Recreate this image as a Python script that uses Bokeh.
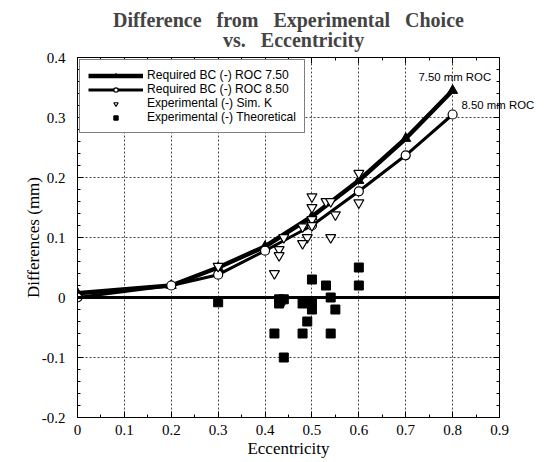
from bokeh.plotting import figure
from bokeh.models import (LinearAxis, Title, Label, Legend, LegendItem, FixedTicker, Span)
from bokeh.embed import file_html
from bokeh.resources import INLINE

# ---- data ----
ecc_curve = [0.0, 0.2, 0.3, 0.4, 0.5, 0.6, 0.7, 0.8]
roc750 = [0.007, 0.02, 0.05, 0.085, 0.135, 0.195, 0.265, 0.345]
roc850 = [0.0, 0.02, 0.038, 0.078, 0.12, 0.177, 0.237, 0.305]

simk_x = [0.60, 0.60, 0.50, 0.50, 0.53, 0.54, 0.55, 0.50, 0.48, 0.50, 0.49, 0.48, 0.54, 0.44, 0.43, 0.43, 0.30, 0.42, 0.44]
simk_y = [0.207, 0.158, 0.168, 0.15, 0.16, 0.16, 0.138, 0.13, 0.118, 0.12, 0.10, 0.09, 0.10, 0.10, 0.08, 0.07, 0.052, 0.04, -0.005]

theo_x = [0.30, 0.43, 0.44, 0.43, 0.48, 0.50, 0.50, 0.50, 0.53, 0.54, 0.55, 0.49, 0.42, 0.48, 0.54, 0.44, 0.60, 0.60]
theo_y = [-0.008, -0.003, -0.003, -0.01, -0.01, -0.01, -0.02, 0.03, 0.02, 0.0, -0.02, -0.04, -0.06, -0.06, -0.06, -0.10, 0.05, 0.02]

x_ticks = [0, 0.1, 0.2, 0.3, 0.4, 0.5, 0.6, 0.7, 0.8, 0.9]
x_tick_labels = ["0", "0.1", "0.2", "0.3", "0.4", "0.5", "0.6", "0.7", "0.8", "0.9"]
x_minor = [0.05, 0.15, 0.25, 0.35, 0.45, 0.55, 0.65, 0.75, 0.85]
y_ticks = [-0.2, -0.1, 0, 0.1, 0.2, 0.3, 0.4]
y_tick_labels = ["-0.2", "-0.1", "0", "0.1", "0.2", "0.3", "0.4"]
y_minor = [-0.18, -0.16, -0.14, -0.12, -0.08, -0.06, -0.04, -0.02,
           0.02, 0.04, 0.06, 0.08, 0.12, 0.14, 0.16, 0.18,
           0.22, 0.24, 0.26, 0.28, 0.32, 0.34, 0.36, 0.38]

label_750 = "7.50 mm ROC"
label_750_pos = (0.727, 0.368)
label_850 = "8.50 mm ROC"
label_850_y = 0.321

title_line1 = ["Difference", "from", "Experimental", "Choice"]
title_line2 = ["vs.", "Eccentricity"]

SERIF = "Liberation Serif"
SANS = "Liberation Sans"
GAP = "\u00a0\u00a0 "
INDENT = "\u00a0" * 22

p = figure(width=546, height=462, x_range=(0, 0.9), y_range=(-0.2, 0.4),
           output_backend="svg", toolbar_location=None, title=None,
           min_border_left=77, min_border_right=47, min_border_top=56, min_border_bottom=45)

p.outline_line_color = "black"
p.outline_line_width = 1
p.background_fill_color = "white"

xt = FixedTicker(ticks=x_ticks, minor_ticks=x_minor)
yt = FixedTicker(ticks=y_ticks, minor_ticks=y_minor)

def style_axis(ax, labels=True):
    ax.major_tick_in = 6
    ax.major_tick_out = 0
    ax.minor_tick_in = 3
    ax.minor_tick_out = 0
    ax.axis_line_color = "black"
    ax.major_tick_line_color = "black"
    ax.minor_tick_line_color = "black"
    if labels:
        ax.major_label_text_font = SERIF
        ax.major_label_text_font_size = "15px"
        ax.major_label_text_color = "black"
        ax.axis_label_text_font = SERIF
        ax.axis_label_text_font_size = "17px"
        ax.axis_label_text_font_style = "normal"
        ax.axis_label_text_color = "black"
    else:
        ax.major_label_text_font_size = "1px"
        ax.major_label_text_color = None
        ax.major_label_standoff = 0

p.xaxis.ticker = xt
p.xaxis.major_label_overrides = dict(zip(x_ticks, x_tick_labels))
p.xaxis.axis_label = "Eccentricity"
p.xaxis.major_label_standoff = 7
p.xaxis.axis_label_standoff = 1
style_axis(p.xaxis[0])

p.yaxis.ticker = yt
p.yaxis.major_label_overrides = dict(zip(y_ticks, y_tick_labels))
p.yaxis.axis_label = "Differences (mm)"
p.yaxis.major_label_standoff = 12
p.yaxis.axis_label_standoff = -4
style_axis(p.yaxis[0])

right_ax = LinearAxis(ticker=yt)
style_axis(right_ax, labels=False)
p.add_layout(right_ax, "right")

# axis used only to place the "8.50 mm ROC" note (not clipped by the frame)
note_ax = LinearAxis(ticker=FixedTicker(ticks=[label_850_y], minor_ticks=[]),
                     major_label_overrides={label_850_y: label_850})
note_ax.axis_line_color = None
note_ax.major_tick_line_color = None
note_ax.minor_tick_line_color = None
note_ax.major_tick_out = 0
note_ax.major_tick_in = 0
note_ax.major_label_standoff = -38
note_ax.major_label_text_font = SANS
note_ax.major_label_text_font_size = "11.4px"
note_ax.major_label_text_color = "black"
p.add_layout(note_ax, "right")

top_ax = LinearAxis(ticker=xt)
style_axis(top_ax, labels=False)
p.add_layout(top_ax, "above")

for g in (p.xgrid[0], p.ygrid[0]):
    g.grid_line_color = "#444444"
    g.grid_line_dash = "2 2"
    g.grid_line_width = 1
p.xgrid.ticker = xt
p.ygrid.ticker = yt

p.add_layout(Span(location=0, dimension="width", line_color="black", line_width=3))

# curves
l75 = p.line(ecc_curve, roc750, line_color="black", line_width=4.5)
m75 = p.scatter(ecc_curve, roc750, marker="triangle", size=10, fill_color="black", line_color="black")
l85 = p.line(ecc_curve, roc850, line_color="black", line_width=3)
m85 = p.scatter(ecc_curve, roc850, marker="circle", size=9, fill_color="white", line_color="black", line_width=1.2)

sk = p.scatter(simk_x, simk_y, marker="inverted_triangle", size=10, fill_color="white", line_color="black", line_width=1.2)
th = p.scatter(theo_x, theo_y, marker="square", size=9, fill_color="black", line_color="black")

legend = Legend(items=[
    LegendItem(label="Required BC (-) ROC 7.50", renderers=[l75, m75]),
    LegendItem(label="Required BC (-) ROC 8.50", renderers=[l85, m85]),
    LegendItem(label="Experimental (-) Sim. K", renderers=[sk]),
    LegendItem(label="Experimental (-) Theoretical", renderers=[th]),
])
legend.location = "top_left"
legend.margin = 2
legend.padding = 8
legend.spacing = 0
legend.glyph_width = 55
legend.glyph_height = 11
legend.label_height = 10
legend.label_standoff = 4
legend.label_text_font = SANS
legend.label_text_font_size = "12.1px"
legend.label_text_color = "black"
legend.border_line_color = "black"
legend.border_line_width = 1.5
legend.background_fill_color = "white"
legend.background_fill_alpha = 1
p.add_layout(legend)

p.add_layout(Label(x=label_750_pos[0], y=label_750_pos[1], text=label_750, text_font=SANS,
                   text_font_size="11.4px", text_baseline="middle", text_color="black"))

title_text = GAP.join(title_line1) + "\n" + INDENT + GAP.join(title_line2)
t = Title(text=title_text, align="center", text_font=SERIF, text_font_size="20px",
          text_font_style="bold", text_line_height=0.95, standoff=12)
p.add_layout(t, "above")

open("out.html", "w").write(file_html(p, INLINE))
